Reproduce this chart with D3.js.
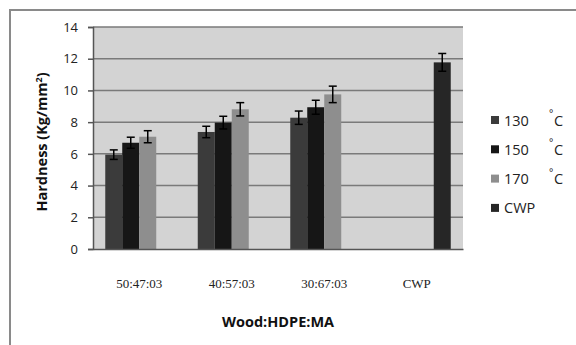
<!DOCTYPE html>
<html><head><meta charset="utf-8">
<script src="https://cdn.jsdelivr.net/npm/d3@7"></script>
<style>html,body{margin:0;padding:0;background:#fff;} svg{display:block;}</style>
</head><body>
<script>
const categories = ["50:47:03", "40:57:03", "30:67:03", "CWP"];
const seriesNames = ["130", "150", "170", "CWP"];
const seriesUnits = ["°C", "°C", "°C", ""];
const v130 = [5.95, 7.38, 8.28, null];
const v150 = [6.70, 7.97, 8.94, null];
const v170 = [7.08, 8.81, 9.75, null];
const vCWP = [null, null, null, 11.77];
const e130 = [0.30, 0.36, 0.42, null];
const e150 = [0.35, 0.40, 0.44, null];
const e170 = [0.38, 0.42, 0.52, null];
const eCWP = [null, null, null, 0.56];
const yTicks = [0, 2, 4, 6, 8, 10, 12, 14];
const colors = ["#3b3b3b", "#161616", "#8e8e8e", "#262626"];

const W = 576, H = 345;
const plot = {l: 93, r: 463, t: 27, b: 249};
const values = [v130, v150, v170, vCWP];
const errors = [e130, e150, e170, eCWP];

const svg = d3.select("body").append("svg").attr("width", W).attr("height", H);

// outer frame
svg.append("rect").attr("x", 10).attr("y", 10).attr("width", 600).attr("height", 400)
  .attr("fill", "#fff").attr("stroke", "#8a8a8a").attr("stroke-width", 2);

const x0 = d3.scaleBand().domain(categories).range([plot.l, plot.r]).paddingInner(0.265).paddingOuter(0.1325);
const x1 = d3.scaleBand().domain(seriesNames).range([0, x0.bandwidth()]);
const y = d3.scaleLinear().domain([0, 14]).range([plot.b, plot.t]);

// plot background
svg.append("rect").attr("x", plot.l).attr("y", plot.t).attr("width", plot.r - plot.l).attr("height", plot.b - plot.t)
  .attr("fill", "#d3d3d3");

// gridlines
svg.append("g").selectAll("line").data(yTicks.filter(t => t > 0)).join("line")
  .attr("x1", plot.l).attr("x2", plot.r).attr("y1", d => y(d)).attr("y2", d => y(d))
  .attr("stroke", "#7a7a7a").attr("stroke-width", 1.5);

// bars
const data = [];
values.forEach((arr, si) => arr.forEach((v, ci) => {
  if (v != null) data.push({s: seriesNames[si], si, c: categories[ci], v, e: errors[si][ci]});
}));
svg.append("g").selectAll("rect").data(data).join("rect")
  .attr("x", d => x0(d.c) + x1(d.s)).attr("width", x1.bandwidth())
  .attr("y", d => y(d.v)).attr("height", d => y(0) - y(d.v))
  .attr("fill", d => colors[d.si]);

// error bars
const eg = svg.append("g").attr("stroke", "#000").attr("stroke-width", 1.5);
data.forEach(d => {
  const cx = x0(d.c) + x1(d.s) + x1.bandwidth() / 2;
  eg.append("line").attr("x1", cx).attr("x2", cx).attr("y1", y(d.v + d.e)).attr("y2", y(d.v - d.e));
  eg.append("line").attr("x1", cx - 4).attr("x2", cx + 4).attr("y1", y(d.v + d.e)).attr("y2", y(d.v + d.e));
  eg.append("line").attr("x1", cx - 4).attr("x2", cx + 4).attr("y1", y(d.v - d.e)).attr("y2", y(d.v - d.e));
});

// y axis
const yAxis = d3.axisLeft(y).tickValues(yTicks).tickSize(5).tickPadding(10);
const ya = svg.append("g").attr("transform", `translate(${plot.l},0)`).call(yAxis);
ya.select(".domain").attr("stroke", "#555").attr("stroke-width", 1.5);
ya.selectAll(".tick line").attr("stroke", "#555").attr("stroke-width", 1.5);
ya.selectAll("text").attr("font-family", "'Open Sans', sans-serif").attr("font-size", 13).attr("fill", "#222");

// x axis baseline
const xAxis = d3.axisBottom(x0).tickSize(0).tickPadding(30);
const xa = svg.append("g").attr("transform", `translate(0,${plot.b})`).call(xAxis);
xa.select(".domain").attr("stroke", "#555").attr("stroke-width", 1.5);
xa.selectAll("text").attr("font-family", "'Liberation Serif', 'Times New Roman', serif").attr("font-size", 13).attr("fill", "#222");

// axis titles
svg.append("text").attr("x", (plot.l + plot.r) / 2).attr("y", 327).attr("text-anchor", "middle")
  .attr("font-family", "'Open Sans', sans-serif").attr("font-weight", "bold").attr("font-size", 14.5).attr("fill", "#111")
  .text("Wood:HDPE:MA");

const yt = svg.append("text").attr("transform", "translate(47,142) rotate(-90)").attr("text-anchor", "middle")
  .attr("font-family", "'Open Sans', sans-serif").attr("font-weight", "bold").attr("font-size", 14.5).attr("fill", "#111");
yt.append("tspan").text("Hardness (Kg/mm");
yt.append("tspan").attr("font-size", 9).attr("dy", -5).text("2");
yt.append("tspan").attr("dy", 5).text(")");

// legend
const lg = svg.append("g").selectAll("g").data(seriesNames).join("g")
  .attr("transform", (d, i) => `translate(491,${120 + i * 29.3})`);
lg.append("rect").attr("x", 0).attr("y", -4).attr("width", 8).attr("height", 8).attr("fill", (d, i) => colors[i]);
lg.append("text").attr("x", 13).attr("y", 5.5).attr("font-family", "'Open Sans', sans-serif").attr("font-size", 14.5)
  .attr("fill", "#222").text(d => d);
lg.each(function(d, i) {
  if (!seriesUnits[i]) return;
  const g = d3.select(this);
  g.append("text").attr("x", 58).attr("y", -3).attr("font-family", "'Open Sans', sans-serif").attr("font-size", 10)
    .attr("fill", "#222").text("°");
  g.append("text").attr("x", 63).attr("y", 5.5).attr("font-family", "'Open Sans', sans-serif").attr("font-size", 14.5)
    .attr("fill", "#222").text("C");
});
</script>
</body></html>
